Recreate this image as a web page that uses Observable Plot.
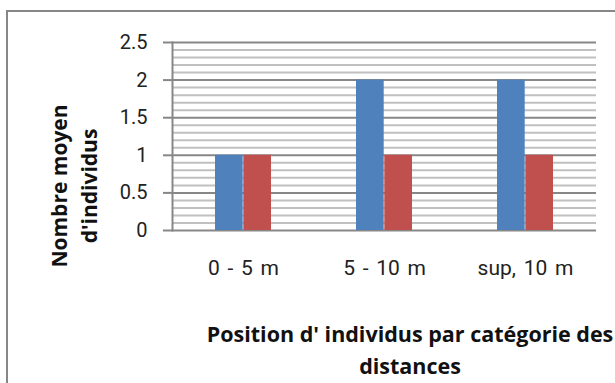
<!DOCTYPE html>
<html>
<head>
<meta charset="utf-8">
<script src="https://cdn.jsdelivr.net/npm/d3@7"></script>
<script src="https://cdn.jsdelivr.net/npm/@observablehq/plot@0.6"></script>
<style>
  html, body { margin: 0; padding: 0; background: #fff; overflow: hidden; }
  #wrap { position: relative; width: 615px; height: 383px; overflow: hidden; background: #fff; }
  #frame { position: absolute; left: 6px; top: 10px; width: 700px; height: 500px; border: 2px solid #878787; box-sizing: border-box; }
  #chart { position: absolute; left: 0; top: 0; }
  .ytitle { position: absolute; left: 74px; top: 186px; width: 260px; transform: translate(-50%, -50%) rotate(-90deg);
    text-align: center; font-family: "Open Sans", sans-serif; font-weight: 700; font-size: 21px; line-height: 30px; color: #111; }
  .xtitle { position: absolute; left: 410px; top: 318px; width: 800px; transform: translateX(-50%);
    text-align: center; font-family: "Open Sans", sans-serif; font-weight: 700; font-size: 21.5px; line-height: 32px; color: #111; white-space: nowrap; }
  #chart svg g[aria-label="x-axis tick label"] text { word-spacing: 2.5px; }
</style>
</head>
<body>
<div id="wrap">
  <div id="frame"></div>
  <div id="chart"></div>
  <div class="ytitle">Nombre moyen<br>d'individus</div>
  <div class="xtitle">Position d' individus par catégorie des<br>distances</div>
</div>
<script>
const categories = ["0 - 5 m", "5 - 10 m", "sup, 10 m"];
const series1 = [1, 2, 2];
const series2 = [1, 1, 1];
const majorTicks = [0, 0.5, 1, 1.5, 2, 2.5];
const minorTicks = d3.range(0, 26).map(i => i / 10);

const data1 = categories.map((c, i) => ({cat: c, v: series1[i]}));
const data2 = categories.map((c, i) => ({cat: c, v: series2[i]}));

const chart = Plot.plot({
  width: 615,
  height: 383,
  marginLeft: 172,
  marginRight: 19,
  marginTop: 42,
  marginBottom: 153,
  style: { fontFamily: "Roboto, sans-serif", fontSize: "20px", color: "#222", background: "transparent", overflow: "visible" },
  x: { domain: categories, paddingInner: 0.6, paddingOuter: 0.3, label: null },
  y: { domain: [0, 2.5], label: null },
  marks: [
    Plot.ruleY(minorTicks.filter(t => !majorTicks.some(m => Math.abs(m - t) < 1e-9)), { stroke: "#c0c0c0", strokeWidth: 2 }),
    Plot.ruleY(majorTicks, { stroke: "#878787", strokeWidth: 2 }),
    Plot.barY(data1, { x: "cat", y: "v", fill: "#4F81BD", insetRight: 28.3, insetLeft: 0 }),
    Plot.barY(data2, { x: "cat", y: "v", fill: "#C0504D", insetLeft: 28.3, insetRight: 0 }),
    Plot.axisY({ ticks: majorTicks, tickSize: 9, tickPadding: 16, stroke: "#878787", strokeWidth: 2, tickFormat: d => String(d), fill: "#222", fontSize: 20 }),
    Plot.frame({ anchor: "left", stroke: "#878787", strokeWidth: 2 }),
    Plot.axisX({ tickSize: 0, tickPadding: 30, fill: "#222", fontSize: 21 })
  ]
});
document.getElementById("chart").appendChild(chart);
</script>
</body>
</html>
